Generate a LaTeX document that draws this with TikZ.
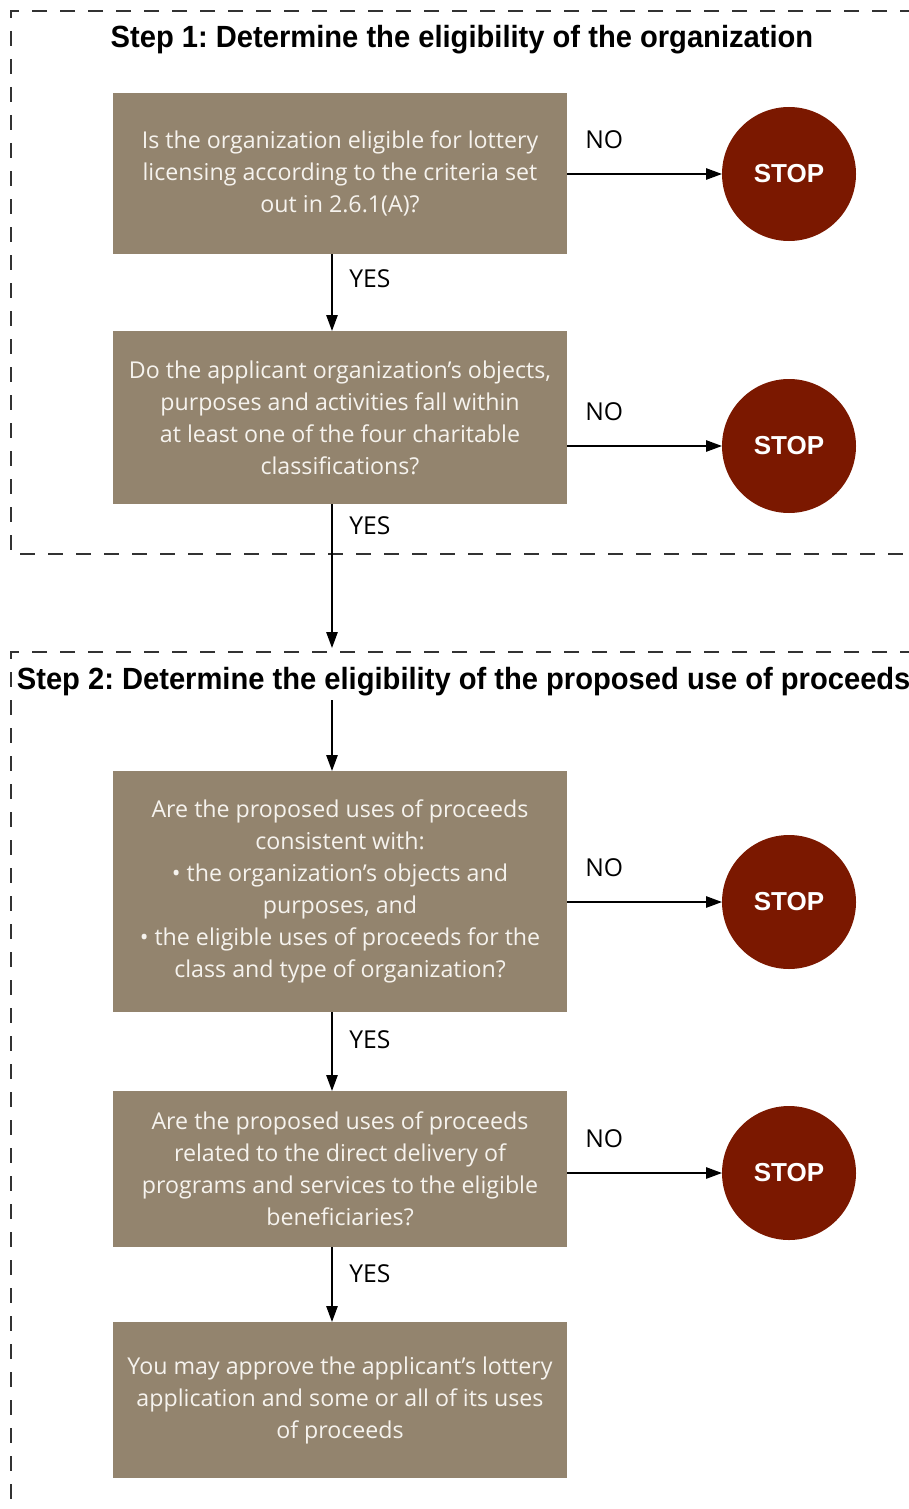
\documentclass[tikz,border=0pt]{standalone}
\usepackage{fontspec}
\setmainfont{Open Sans}
\newfontfamily\headfont{Liberation Sans}[FakeStretch=0.95]
\newfontfamily\stopfont{Liberation Sans}
\usetikzlibrary{arrows.meta, positioning}
\definecolor{boxbrown}{RGB}{147,132,110}
\definecolor{boxtext}{RGB}{246,243,238}
\definecolor{stopred}{RGB}{123,24,0}
\definecolor{framegray}{RGB}{50,50,50}
\frenchspacing

\begin{document}
\begin{tikzpicture}[x=0.75pt, y=-0.75pt, ->, >={Triangle[length=12pt,width=8.5pt]}, line width=1.3pt, node distance=57.75pt]
        \tikzstyle{question} = [rectangle, fill=boxbrown, text=boxtext, minimum width=340.5pt, inner sep=0pt, outer sep=0pt, align=center, font=\fontsize{17.4}{24}\selectfont]
        \tikzstyle{stopsign} = [circle, fill=stopred, text=white, minimum size=100.5pt, inner sep=0pt, outer sep=0pt, font=\stopfont\bfseries\fontsize{19.5}{22}\selectfont]
        \tikzstyle{answer} = [font=\fontsize{18.5}{20}\selectfont, text=black]
        \tikzstyle{heading} = [font=\headfont\bfseries\fontsize{23}{26}\selectfont]
        \tikzstyle{frame} = [-, draw=framegray, line width=0.8pt, dash pattern=on 11pt off 10pt]

        \useasboundingbox (0,0) rectangle (909,1509);

        % dashed step frames
        \draw[frame] (915,11) -| (11,554) -- (915,554);
        \draw[frame] (915,652) -| (11,1515);

        \node[heading](step_1) at (462,40) {Step 1: Determine the eligibility of the organization};
        \node[heading, anchor=west, inner sep=0pt](step_2) at (16,682) {Step 2: Determine the eligibility of the proposed use of proceeds};

        % questions
        \node[question, minimum height=120.75pt](q_1) at (340,173.5) {Is the organization eligible for lottery\\licensing according to the criteria set\\out in 2.6.1(A)?};
        \node[question, minimum height=129.75pt](q_2) [below=of q_1] {Do the applicant organization’s objects,\\purposes and activities fall within\\at least one of the four charitable\\classifications?};
        \node[question, minimum height=180.75pt](q_3) [below=200.25pt of q_2] {Are the proposed uses of proceeds\\consistent with:\\\textbullet{} the organization’s objects and\\purposes, and\\\textbullet{} the eligible uses of proceeds for the\\class and type of organization?};
        \node[question, minimum height=117pt](q_4) [below=59.25pt of q_3] {Are the proposed uses of proceeds\\related to the direct delivery of\\programs and services to the eligible\\beneficiaries?};
        \node[question, minimum height=117pt](approve) [below=56.25pt of q_4] {You may approve the applicant’s lottery\\application and some or all of its uses\\of proceeds};

        % stop signs
        \node[stopsign](stop_1) at (789,174) {STOP};
        \node[stopsign](stop_2) at (789,446) {STOP};
        \node[stopsign](stop_3) at (789,902) {STOP};
        \node[stopsign](stop_4) at (789,1173) {STOP};

        \coordinate (step_in) at (332,648);
        \coordinate (step_out) at (332,700);

        \path ([xshift=-6pt]q_1.south) edge node[answer, pos=0.32, anchor=west, xshift=9pt] {YES} ([xshift=-6pt]q_2.north)
              ([xshift=-6pt]q_2.south) edge node[answer, pos=0.15, anchor=west, xshift=9pt] {YES} (step_in)
              (step_out) edge ([xshift=-6pt]q_3.north)
              ([xshift=-6pt]q_3.south) edge node[answer, pos=0.35, anchor=west, xshift=9pt] {YES} ([xshift=-6pt]q_4.north)
              ([xshift=-6pt]q_4.south) edge node[answer, pos=0.35, anchor=west, xshift=9pt] {YES} ([xshift=-6pt]approve.north);

        \path (q_1.east |- stop_1) edge node[answer, pos=0.24, yshift=25.5pt] {NO} (stop_1)
              (q_2.east |- stop_2) edge node[answer, pos=0.24, yshift=25.5pt] {NO} (stop_2)
              (q_3.east |- stop_3) edge node[answer, pos=0.24, yshift=25.5pt] {NO} (stop_3)
              (q_4.east |- stop_4) edge node[answer, pos=0.24, yshift=25.5pt] {NO} (stop_4);
    \end{tikzpicture}
\end{document}
